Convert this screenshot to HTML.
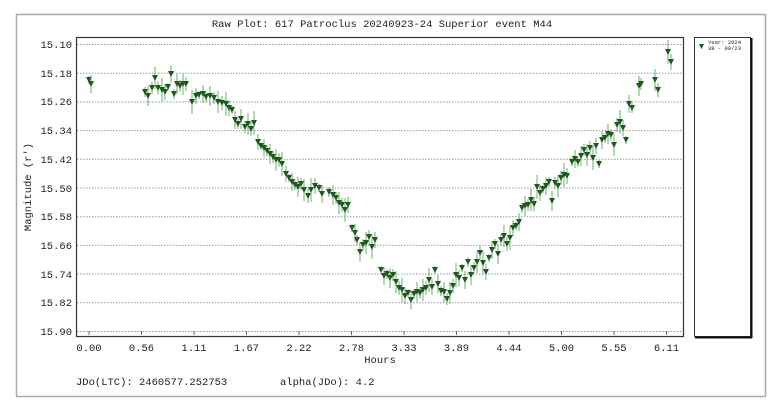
<!DOCTYPE html>
<html><head><meta charset="utf-8"><style>
html,body{margin:0;padding:0;background:#fff;width:768px;height:409px;overflow:hidden}
svg{display:block}
text{font-family:"Liberation Mono","DejaVu Sans Mono",monospace;fill:#222}
</style></head><body>
<svg width="768" height="409" viewBox="0 0 768 409">
<rect x="16.5" y="14.5" width="749" height="382" fill="#fff" stroke="#aaa" stroke-width="1.5"/>
<text x="382" y="27" font-size="10.5" text-anchor="middle">Raw Plot: 617 Patroclus 20240923-24 Superior event M44</text>
<g stroke="#999" stroke-width="1" stroke-dasharray="1.5,1.5">
<line x1="77" x2="684" y1="44.5" y2="44.5"/><line x1="77" x2="684" y1="73.2" y2="73.2"/><line x1="77" x2="684" y1="101.9" y2="101.9"/><line x1="77" x2="684" y1="130.6" y2="130.6"/><line x1="77" x2="684" y1="159.3" y2="159.3"/><line x1="77" x2="684" y1="188" y2="188"/><line x1="77" x2="684" y1="216.7" y2="216.7"/><line x1="77" x2="684" y1="245.4" y2="245.4"/><line x1="77" x2="684" y1="274.1" y2="274.1"/><line x1="77" x2="684" y1="302.8" y2="302.8"/><line x1="77" x2="684" y1="331.5" y2="331.5"/>
</g>
<g font-size="10.5" text-anchor="end">
<text x="72" y="48">15.10</text><text x="72" y="77">15.18</text><text x="72" y="105">15.26</text><text x="72" y="134">15.34</text><text x="72" y="163">15.42</text><text x="72" y="192">15.50</text><text x="72" y="220">15.58</text><text x="72" y="249">15.66</text><text x="72" y="278">15.74</text><text x="72" y="306">15.82</text><text x="72" y="335">15.90</text>
</g>
<g font-size="10.5" text-anchor="middle">
<text x="89" y="351">0.00</text><text x="141.5" y="351">0.56</text><text x="194" y="351">1.11</text><text x="246.5" y="351">1.67</text><text x="299" y="351">2.22</text><text x="351.5" y="351">2.78</text><text x="404" y="351">3.33</text><text x="456.5" y="351">3.89</text><text x="509" y="351">4.44</text><text x="561.5" y="351">5.00</text><text x="614" y="351">5.55</text><text x="666.5" y="351">6.11</text>
<text x="380" y="363">Hours</text>
<text transform="translate(31,187) rotate(-90)">Magnitude (r')</text>
</g>
<text x="76" y="385" font-size="10.5">JDo(LTC): 2460577.252753</text>
<text x="280" y="385" font-size="10.5">alpha(JDo): 4.2</text>
<g stroke="#666" stroke-width="1">
<line x1="89" x2="89" y1="331" y2="335"/><line x1="141.5" x2="141.5" y1="331" y2="335"/><line x1="194" x2="194" y1="331" y2="335"/><line x1="246.5" x2="246.5" y1="331" y2="335"/><line x1="299" x2="299" y1="331" y2="335"/><line x1="351.5" x2="351.5" y1="331" y2="335"/><line x1="404" x2="404" y1="331" y2="335"/><line x1="456.5" x2="456.5" y1="331" y2="335"/><line x1="509" x2="509" y1="331" y2="335"/><line x1="561.5" x2="561.5" y1="331" y2="335"/><line x1="614" x2="614" y1="331" y2="335"/><line x1="666.5" x2="666.5" y1="331" y2="335"/>
</g>
<rect x="76.5" y="37.5" width="607" height="299" fill="none" stroke="#333" stroke-width="1.2"/>
<rect x="694.5" y="37.5" width="56" height="299" fill="#fff" stroke="#333" stroke-width="1"/>
<line x1="751.5" y1="38" x2="751.5" y2="338" stroke="#111" stroke-width="2"/>
<line x1="695" y1="337.5" x2="752" y2="337.5" stroke="#111" stroke-width="2"/>
<text x="708" y="44" font-size="5.5">Year: 2024</text>
<text x="708" y="50" font-size="5.5">38 - 09/23</text>
<path d="M699,44 h5 l-2.5,5z" fill="#1d5a1d"/>
<g id="pts"></g>
</svg>
<script>
var p=[89,80,91,84,145,92,148,96,152,88,155,78,158,88,162,90,165,92,168,87,171,74,174,94,177,84,180,86,183,84,186,84,192,102,196,96,199,95,203,94,206,97,210,96,214,98,218,102,222,103,226,104,229,108,232,110,235,120,238,124,241,119,245,127,248,124,251,129,254,123,258,142,261,146,264,148,267,151,270,154,273,157,276,160,279,160,282,164,286,174,289,178,292,182,295,185,298,187,301,184,304,190,308,196,311,190,315,186,319,188,322,194,329,192,333,195,336,198,339,203,342,205,345,210,348,205,352,228,355,233,357,240,360,252,363,245,366,243,369,237,372,247,375,240,381,270,384,276,387,274,390,278,393,275,396,282,399,288,402,290,405,296,408,293,411,300,414,294,417,292,420,293,423,290,426,288,429,280,432,287,435,270,438,284,441,291,444,292,447,299,450,293,453,286,456,275,459,278,462,268,465,280,468,262,471,275,474,268,477,262,480,253,483,263,486,272,489,258,492,250,495,244,498,254,501,240,504,236,507,244,510,238,513,228,516,226,519,222,522,208,525,206,528,205,531,200,534,204,537,187,540,193,543,189,546,186,549,182,552,201,555,183,558,186,561,178,564,175,567,176,572,162,575,159,578,162,581,156,584,150,587,155,590,148,593,158,596,146,599,164,602,140,605,138,608,134,611,135,614,145,617,125,620,122,623,128,626,140,629,104,632,108,639,86,641,84,655,80,658,90,668,52,671,62];
var s='';
for(var i=0;i<p.length;i+=2){var x=p[i],y=p[i+1],e=4+((i*7)%9);
s+='<line x1="'+x+'" x2="'+x+'" y1="'+(y-e)+'" y2="'+(y+e)+'" stroke="#6fae6f" stroke-width="1"/>';
s+='<path d="M'+(x-3)+','+(y-3)+' h6 l-3,6z" fill="#1d5a1d"/>';}
document.getElementById('pts').innerHTML=s;
</script>
</body></html>
